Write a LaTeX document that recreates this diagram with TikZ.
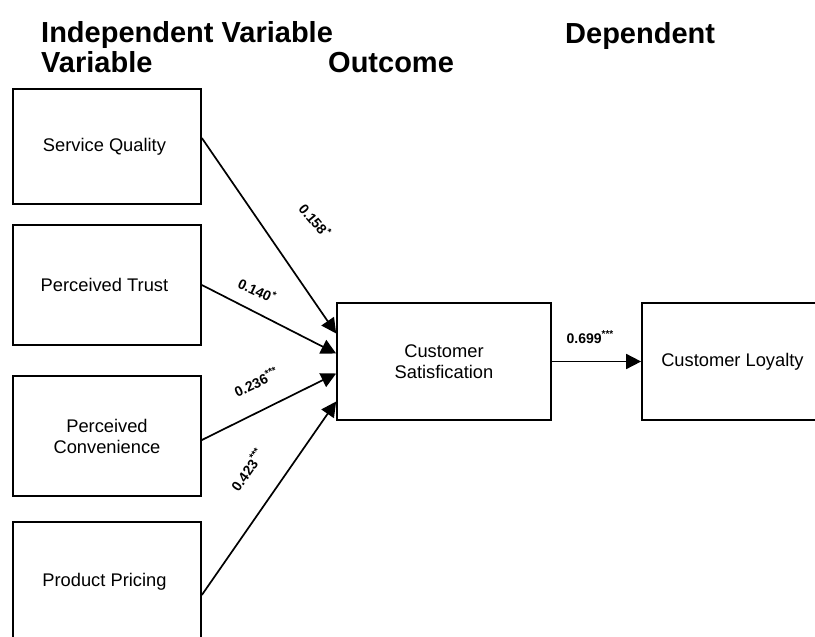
\documentclass[tikz,border=0pt]{standalone}
\usepackage{fontspec}
\setmainfont{Liberation Sans}
\usetikzlibrary{arrows.meta}

\newcommand{\sig}[1]{\raisebox{0.4em}{\fontsize{10}{10}\selectfont #1}}

\begin{document}
\begin{tikzpicture}[
    x=1pt, y=-1pt,
    box/.style={
        draw,
        line width=1.7pt,
        align=center,
        minimum width=188pt,
        minimum height=120pt,
        inner sep=0pt,
        font=\fontsize{18.3}{21}\selectfont
    },
    head/.style={
        anchor=base west,
        inner sep=0pt,
        font=\fontsize{29}{31}\selectfont\bfseries
    },
    coef/.style={
        inner sep=0pt,
        font=\fontsize{14}{15}\selectfont\bfseries
    },
    arrow/.style={
        -{Triangle[length=15pt,width=15pt]},
        line width=1.7pt
    }
]

\useasboundingbox (0,0) rectangle (815,637);

% column headings
\node[head] (indep) at (41,42) {Independent Variable};
\node[head] (var) at (41,72) {Variable};
\node[head] (outc) at (328,72) {Outcome};
\node[head] (dep) at (565,43) {Dependent};

\node[box, minimum height=115pt] (sq) at (107,146.5)
{
    Service Quality
};

\node[box] (pt) at (107,285)
{
    Perceived Trust
};

\node[box] (pc) at (107,436)
{
    Perceived\\
    Convenience
};

\node[box] (pp) at (107,582)
{
    Product Pricing
};

\node[box, minimum width=214pt, minimum height=117pt] (cs) at (444,361.5)
{
    Customer\\
    Satisfication
};

\node[box, minimum width=186pt, minimum height=117pt] (cl) at (735,361.5)
{
    Customer Loyalty
};

\draw[arrow] ([yshift=8.5pt]sq.east) -- ([yshift=28pt]cs.west);
\draw[arrow] (pt.east) -- ([yshift=8pt]cs.west);
\draw[arrow] ([yshift=-4pt]pc.east) -- ([yshift=-12pt]cs.west);
\draw[arrow] ([yshift=-13pt]pp.east) -- ([yshift=-40pt]cs.west);

\draw[arrow] (cs) -- (cl);

% path coefficients
\node[coef, rotate=-50] (c1) at (315,220) {0.158\sig{*}};
\node[coef, rotate=-25] (c2) at (257,290) {0.140\sig{*}};
\node[coef, rotate=25] (c3) at (256,382) {0.236\sig{***}};
\node[coef, rotate=55] (c4) at (247,470) {0.423\sig{***}};
\node[coef] (c5) at (590,337) {0.699\sig{***}};

\end{tikzpicture}
\end{document}
